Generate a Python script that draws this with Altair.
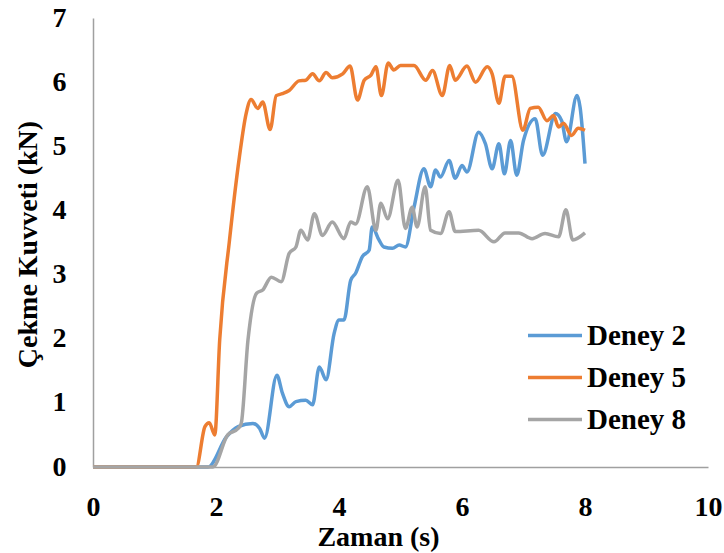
import altair as alt
import pandas as pd

# Pull force over time for three tests
series_names = ["Deney 2", "Deney 5", "Deney 8"]
series_colors = ["#5B9BD5", "#ED7D31", "#A5A5A5"]

d2_t = [0, 1.87, 2.17, 2.36, 2.60, 2.71, 2.79, 2.99, 3.08, 3.19, 3.30, 3.46, 3.57, 3.68, 3.79,
        3.92, 4.0, 4.08, 4.19, 4.27, 4.38, 4.49, 4.54, 4.65, 4.73, 4.87, 4.98, 5.08, 5.22, 5.38,
        5.49, 5.57, 5.65, 5.79, 5.89, 6.0, 6.08, 6.27, 6.38, 6.49, 6.60, 6.69, 6.79, 6.89, 7.0,
        7.19, 7.31, 7.52, 7.62, 7.70, 7.87, 7.92, 8.0]
d2_f = [0, 0, 0.47, 0.63, 0.68, 0.60, 0.45, 1.43, 1.15, 0.94, 1.02, 1.04, 0.97, 1.56, 1.36,
        2.08, 2.29, 2.29, 2.91, 3.02, 3.28, 3.38, 3.74, 3.54, 3.43, 3.41, 3.46, 3.43, 4.05, 4.65,
        4.37, 4.63, 4.52, 4.78, 4.50, 4.70, 4.60, 5.22, 5.04, 4.65, 5.04, 4.57, 5.09, 4.55, 5.09,
        5.43, 4.86, 5.51, 5.40, 5.07, 5.79, 5.61, 4.73]

d5_t = [0, 1.68, 1.82, 1.89, 1.98, 2.06, 2.22, 2.38, 2.49, 2.57, 2.68, 2.76, 2.88, 2.98, 3.08,
        3.19, 3.35, 3.46, 3.57, 3.68, 3.79, 3.89, 4.06, 4.18, 4.30, 4.41, 4.52, 4.60, 4.69, 4.80,
        4.89, 5.0, 5.22, 5.41, 5.52, 5.68, 5.80, 5.89, 6.08, 6.22, 6.41, 6.49, 6.60, 6.70, 6.81,
        6.99, 7.11, 7.24, 7.38, 7.49, 7.57, 7.65, 7.78, 7.89, 8.0]
d5_f = [0, 0, 0.63, 0.69, 0.5, 1.98, 3.54, 4.83, 5.51, 5.73, 5.59, 5.69, 5.26, 5.79, 5.82,
        5.87, 6.02, 6.03, 6.13, 6.02, 6.15, 6.07, 6.13, 6.25, 5.72, 6.03, 6.11, 6.24, 5.79, 6.30,
        6.19, 6.26, 6.26, 6.03, 6.18, 5.79, 6.26, 6.03, 6.25, 6.00, 6.24, 6.13, 5.67, 6.09, 6.09,
        5.25, 5.59, 5.61, 5.40, 5.48, 5.30, 5.36, 5.17, 5.28, 5.25]

d8_t = [0, 1.95, 2.19, 2.36, 2.41, 2.52, 2.66, 2.76, 2.90, 3.06, 3.19, 3.30, 3.38, 3.49, 3.60,
        3.73, 3.89, 4.08, 4.19, 4.27, 4.46, 4.60, 4.68, 4.79, 4.96, 5.08, 5.19, 5.27, 5.40, 5.49,
        5.65, 5.79, 5.89, 6.27, 6.52, 6.70, 6.92, 7.14, 7.35, 7.57, 7.69, 7.80, 8.0]
d8_f = [0, 0, 0.50, 0.60, 0.68, 1.98, 2.71, 2.76, 2.96, 2.89, 3.33, 3.43, 3.69, 3.54, 3.95,
        3.61, 3.82, 3.56, 3.82, 3.79, 4.37, 3.69, 4.11, 3.87, 4.47, 3.72, 4.05, 3.74, 4.37, 3.69,
        3.64, 3.98, 3.67, 3.69, 3.51, 3.65, 3.65, 3.56, 3.64, 3.59, 4.01, 3.54, 3.65]

x_ticks = [0, 2, 4, 6, 8, 10]
y_ticks = [0, 1, 2, 3, 4, 5, 6, 7]

frames = []
for name, t, f in zip(series_names, [d2_t, d5_t, d8_t], [d2_f, d5_f, d8_f]):
    frames.append(pd.DataFrame({"Zaman": t, "Kuvvet": f, "Deney": name}))
df = pd.concat(frames, ignore_index=True)

FONT = "Liberation Serif"

x_enc = alt.X(
    "Zaman:Q",
    scale=alt.Scale(domain=[0, 10], nice=False),
    axis=alt.Axis(
        values=x_ticks, title="Zaman (s)", grid=False, ticks=False,
        domainColor="#a0a0a0", domainWidth=1.5,
        labelFont=FONT, labelFontSize=28, labelFontWeight="bold", labelColor="black",
        labelPadding=26, labelFlush=False,
        titleFont=FONT, titleFontSize=28, titleFontWeight="bold", titleColor="black",
        titleX=285, titleY=78, titleBaseline="alphabetic",
    ),
)
y_enc = alt.Y(
    "Kuvvet:Q",
    scale=alt.Scale(domain=[0, 7], nice=False),
    axis=alt.Axis(
        values=y_ticks, title="Çekme Kuvveti (kN)", grid=False, ticks=False,
        domainColor="#a0a0a0", domainWidth=1.5,
        labelFont=FONT, labelFontSize=28, labelFontWeight="bold", labelColor="black",
        labelPadding=27, labelFlush=False,
        titleFont=FONT, titleFontSize=28, titleFontWeight="bold", titleColor="black",
        titleX=-65, titleY=226, titleAngle=270, titleBaseline="middle", titleAlign="center",
    ),
)
# Legend key: a long horizontal stroke drawn as a custom path
color_enc = alt.Color(
    "Deney:N",
    scale=alt.Scale(domain=series_names, range=series_colors),
    legend=alt.Legend(
        title=None, orient="none", legendX=433, legendY=302,
        symbolType="M-1,0H3", symbolSize=729, symbolStrokeWidth=3.5,
        labelFont=FONT, labelFontSize=29, labelFontWeight="bold", labelColor="black",
        labelOffset=30, rowPadding=11, padding=0,
    ),
)

layers = []
for name in series_names:
    layers.append(
        alt.Chart(df)
        .transform_filter(alt.datum.Deney == name)
        .mark_line(strokeWidth=3.5, interpolate="monotone")
        .encode(x=x_enc, y=y_enc, color=color_enc)
    )

chart = (
    alt.layer(*layers)
    .properties(
        width=615, height=449,
        autosize=alt.AutoSizeParams(type="none"),
        padding={"left": 93, "top": 18, "right": 16, "bottom": 86},
        background="white",
    )
    .configure_view(stroke=None)
)

chart.save("out.html", embed_options={"renderer": "svg", "actions": False})
